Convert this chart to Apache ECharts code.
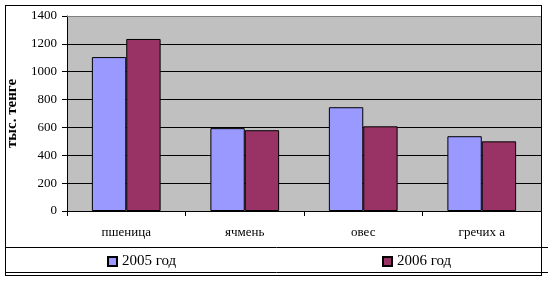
<!DOCTYPE html>
<html><head><meta charset="utf-8">
<script src="https://cdn.jsdelivr.net/npm/echarts@6/dist/echarts.min.js"></script>
<style>html,body{margin:0;padding:0;background:#fff}#c{width:548px;height:282px}</style>
</head><body><div id="c"></div>
<script>
const categories = ['пшеница', 'ячмень', 'овес', 'гречих а'];
const values2005 = [1105, 595, 745, 537];
const values2006 = [1235, 580, 608, 500];
const seriesNames = ['2005 год', '2006 год'];
const yTicks = [0, 200, 400, 600, 800, 1000, 1200, 1400];
const yName = 'тыс. тенге';

const chart = echarts.init(document.getElementById('c'), null, {renderer: 'canvas'});
const serif = '"Liberation Serif", "Times New Roman", serif';
chart.setOption({
  animation: false,
  backgroundColor: '#fff',
  grid: {left: 67, right: 7, top: 16, bottom: 71, show: true, backgroundColor: '#C0C0C0', borderWidth: 0,
         containLabel: false, outerBoundsMode: 'none'},
  xAxis: {
    type: 'category', data: categories,
    axisLine: {lineStyle: {color: '#000', width: 1}},
    axisTick: {show: true, length: 5, lineStyle: {color: '#000'}},
    axisLabel: {fontFamily: serif, fontSize: 13, color: '#000', margin: 15}
  },
  yAxis: {
    type: 'value', min: yTicks[0], max: yTicks[yTicks.length - 1], interval: 200,
    name: yName, nameLocation: 'middle', nameGap: 38,
    nameTextStyle: {fontFamily: serif, fontSize: 15, fontWeight: 'bold', color: '#000'},
    axisLine: {show: true, lineStyle: {color: '#000'}},
    axisTick: {show: true, length: 5, lineStyle: {color: '#000'}},
    axisLabel: {fontFamily: serif, fontSize: 13, color: '#000', margin: 10, formatter: v => String(v)},
    splitLine: {show: true, lineStyle: {color: '#000', width: 1}}
  },
  legend: [
    {data: [seriesNames[0]], left: 107, top: 254, padding: 0, itemWidth: 9, itemHeight: 9, itemGap: 4,
     textStyle: {fontFamily: serif, fontSize: 15, color: '#000'}, icon: 'rect'},
    {data: [seriesNames[1]], left: 382, top: 254, padding: 0, itemWidth: 9, itemHeight: 9, itemGap: 4,
     textStyle: {fontFamily: serif, fontSize: 15, color: '#000'}, icon: 'rect'}
  ],
  series: [
    {name: seriesNames[0], type: 'bar', data: values2005, barCategoryGap: '42%', barGap: '0%',
     itemStyle: {color: '#9999FF', borderColor: '#000', borderWidth: 1}},
    {name: seriesNames[1], type: 'bar', data: values2006, barCategoryGap: '42%', barGap: '0%',
     itemStyle: {color: '#993366', borderColor: '#000', borderWidth: 1}}
  ],
  graphic: [
    {type: 'line', shape: {x1: 67, y1: 16.5, x2: 541, y2: 16.5}, style: {stroke: '#808080', lineWidth: 1}, z: 10},
    {type: 'line', shape: {x1: 5.5, y1: 5, x2: 5.5, y2: 276}, style: {stroke: '#000', lineWidth: 1}},
    {type: 'line', shape: {x1: 5, y1: 5.5, x2: 541, y2: 5.5}, style: {stroke: '#000', lineWidth: 1}},
    {type: 'line', shape: {x1: 541.5, y1: 5, x2: 541.5, y2: 276}, style: {stroke: '#000', lineWidth: 1}, z: 10},
    {type: 'line', shape: {x1: 5, y1: 247.5, x2: 548, y2: 247.5}, style: {stroke: '#000', lineWidth: 1}},
    {type: 'line', shape: {x1: 5, y1: 272.5, x2: 548, y2: 272.5}, style: {stroke: '#000', lineWidth: 1}},
    {type: 'line', shape: {x1: 5, y1: 275.5, x2: 541, y2: 275.5}, style: {stroke: '#000', lineWidth: 1}}
  ]
});
</script></body></html>
